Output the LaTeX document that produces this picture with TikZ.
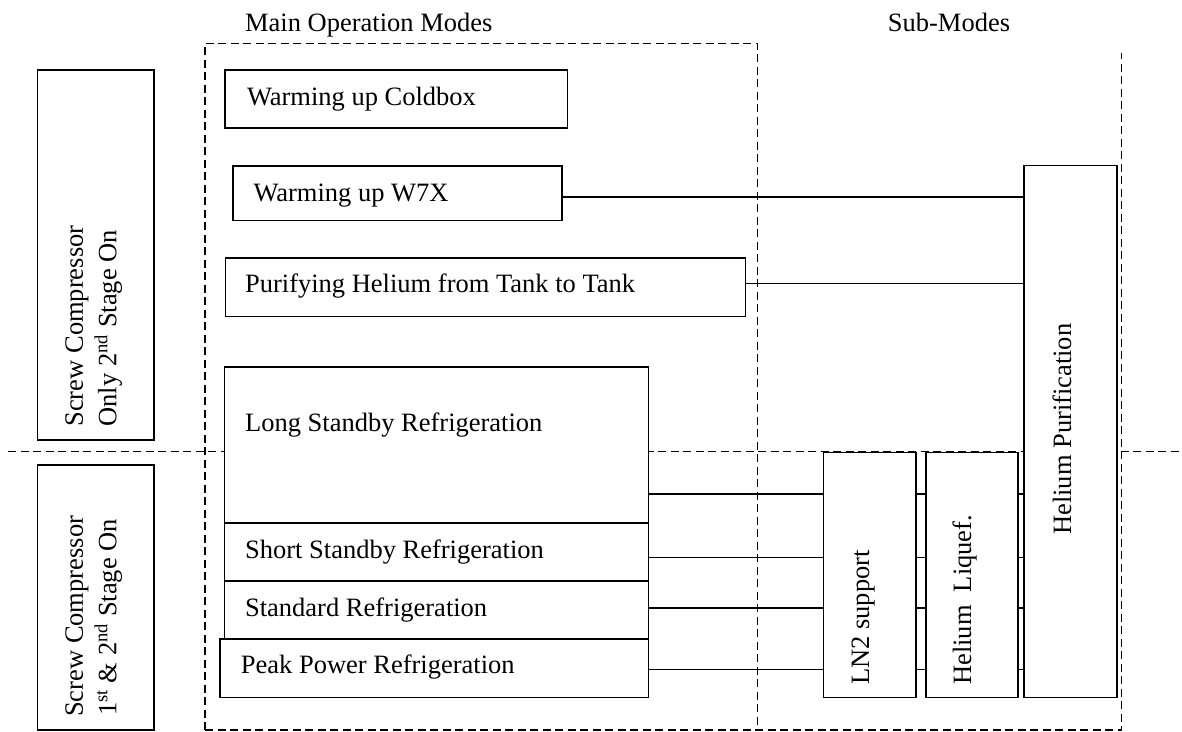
\documentclass[tikz,border=0pt]{standalone}
\usepackage{fontspec}
\setmainfont{Liberation Serif}
\begin{document}
\begin{tikzpicture}[x=1pt,y=-1pt,
  box/.style={draw,line width=1.6pt,fill=white,inner sep=0pt,anchor=north west},
  txt/.style={font=\fontsize{26.5}{34}\selectfont,inner sep=0pt,anchor=base west},
  vtxt/.style={txt,rotate=90},
  dline/.style={line width=1.4pt,dash pattern=on 8pt off 4.5pt},
  conn/.style={line width=1.6pt}]
\useasboundingbox (0,0) rectangle (1182,731);
% dashed frames
\draw[dline] (205,730) -- (205,43.3) -- (757.4,43.3) -- (757.4,730);
\draw[dline] (205,730) -- (757.4,730) -- (1121.6,730) -- (1121.6,53.3);
\draw[dline] (8.3,451.7) -- (1182,451.7);
% titles
\node[txt] (tmain) at (244.9,31.7) {Main Operation Modes};
\node[txt] (tsub) at (887.7,31.7) {Sub-Modes};
% left boxes
\node[box,minimum width=116.7pt,minimum height=370pt] (sc1) at (36.7,69.3) {};
\node[box,minimum width=116.7pt,minimum height=265.3pt] (sc2) at (36.7,464) {};
\node[vtxt] (sc1a) at (82.8,426.7) {Screw Compressor};
\node[vtxt] (sc1b) at (116.3,426.7) {Only 2\textsuperscript{nd} Stage On};
\node[vtxt] (sc2a) at (82.8,717) {Screw Compressor};
\node[vtxt] (sc2b) at (116.3,716) {1\textsuperscript{st} \& 2\textsuperscript{nd} Stage On};
% main modes
\node[box,minimum width=342.5pt,minimum height=58pt] (cb) at (224.3,69.3) {};
\node[txt] (cbt) at (246.8,105) {Warming up Coldbox};
\node[box,minimum width=329.5pt,minimum height=54.4pt] (w7) at (231.9,165.3) {};
\node[txt] (w7t) at (253.3,201.2) {Warming up W7X};
\node[box,minimum width=520.2pt,minimum height=58.4pt] (pu) at (224.6,257.3) {};
\node[txt] (put) at (244.9,292.3) {Purifying Helium from Tank to Tank};
\node[box,minimum width=424pt,minimum height=156.3pt] (ls) at (223.5,366) {};
\node[txt] (lst) at (244.9,431.7) {Long Standby Refrigeration};
\node[box,minimum width=424pt,minimum height=58pt] (ss) at (223.5,522.3) {};
\node[txt] (sst) at (244.9,558.3) {Short Standby Refrigeration};
\node[box,minimum width=424pt,minimum height=57.9pt] (st) at (223.5,580.3) {};
\node[txt] (stt) at (244.9,616) {Standard Refrigeration};
\node[box,minimum width=428.5pt,minimum height=58.5pt] (pp) at (219,638.2) {};
\node[txt] (ppt) at (240.7,673.3) {Peak Power Refrigeration};
% sub-modes
\node[box,minimum width=92.6pt,minimum height=245.2pt] (ln) at (822.5,451.5) {};
\node[vtxt] (lnt) at (869,685) {LN2 support};
\node[box,minimum width=92.1pt,minimum height=245.2pt] (hl) at (925.2,451.5) {};
\node[vtxt] (hlt) at (971,685) {Helium\ \ Liquef.};
\node[box,minimum width=93pt,minimum height=532pt] (hp) at (1023,164.7) {};
\node[vtxt] (hpt) at (1071,535) {Helium Purification};
% connector levels
\coordinate (ya) at (0,196.7);
\coordinate (yb) at (0,283.3);
\coordinate (yc) at (0,493.7);
\coordinate (yd) at (0,557.3);
\coordinate (ye) at (0,607.7);
\coordinate (yf) at (0,669.5);
\draw[conn] (w7.east |- ya) -- (hp.west |- ya);
\draw[conn] (pu.east |- yb) -- (hp.west |- yb);
\draw[conn] (ls.east |- yc) -- (ln.west |- yc);
\draw[conn] (ss.east |- yd) -- (ln.west |- yd);
\draw[conn] (st.east |- ye) -- (ln.west |- ye);
\draw[conn] (pp.east |- yf) -- (ln.west |- yf);
\foreach \yy in {yc,yd,ye,yf}{
  \draw[conn] (ln.east |- \yy) -- (hl.west |- \yy);
  \draw[conn] (hl.east |- \yy) -- (hp.west |- \yy);
}
\end{tikzpicture}
\end{document}
